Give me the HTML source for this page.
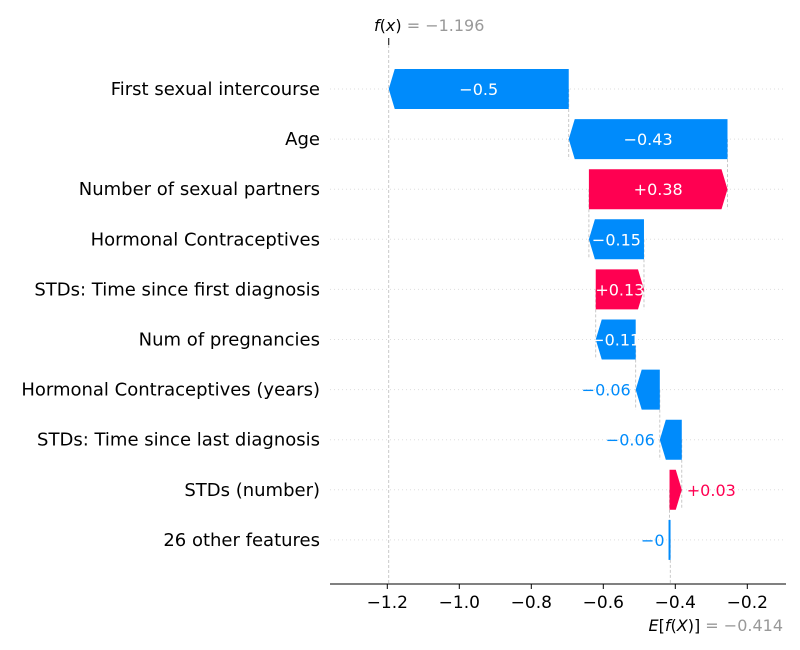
<!DOCTYPE html>
<html><head><meta charset="utf-8"><style>
html,body{margin:0;padding:0;background:#fff;}
svg{display:block;font-family:"DejaVu Sans","Liberation Sans",sans-serif;}
</style></head><body>
<svg id="chart" width="800" height="650" viewBox="0 0 800 650" xmlns="http://www.w3.org/2000/svg">
<g id="grid"></g><g id="conn"></g><g id="bars"></g><g id="labels"></g><g id="axis"></g>
</svg>
<script>
const features = ["First sexual intercourse","Age","Number of sexual partners","Hormonal Contraceptives","STDs: Time since first diagnosis","Num of pregnancies","Hormonal Contraceptives (years)","STDs: Time since last diagnosis","STDs (number)","26 other features"];
const shapValues = [-0.500,-0.441,0.385,-0.153,0.134,-0.111,-0.067,-0.061,0.034,-0.002];
const valueLabels = ["\u22120.5","\u22120.43","+0.38","\u22120.15","+0.13","\u22120.11","\u22120.06","\u22120.06","+0.03","\u22120"];
const baseValue = -0.414;
const fxValue = -1.196;
const xTicks = [-1.2,-1.0,-0.8,-0.6,-0.4,-0.2];
const xTickLabels = ["\u22121.2","\u22121.0","\u22120.8","\u22120.6","\u22120.4","\u22120.2"];

const NS="http://www.w3.org/2000/svg";
const X=v=>387.3+(v+1.2)*360;
const Y=i=>89+i*50.1;
const AXL=330,AXR=786,AXY=584,BH=40;
function mk(tag,attrs,parent,text){const e=document.createElementNS(NS,tag);for(const k in attrs)e.setAttribute(k,attrs[k]);if(text!==undefined)e.textContent=text;document.getElementById(parent).appendChild(e);return e;}

const n=features.length;const starts=new Array(n),ends=new Array(n);
let cur=baseValue;
for(let i=n-1;i>=0;i--){starts[i]=cur;cur+=shapValues[i];ends[i]=cur;}

for(let i=0;i<n;i++){
  const g=mk('line',{x1:AXL,x2:AXR,y1:Y(i),y2:Y(i),stroke:'#ddd','stroke-width':1,'stroke-dasharray':'1,3'},'grid');
  
  
  const t=mk('text',{x:320,y:Y(i)+6,'text-anchor':'end','font-size':'18px',fill:'#000'},'labels',features[i]);
  
  
}
const fl=mk('line',{x1:X(fxValue),x2:X(fxValue),y1:45,y2:AXY,stroke:'#bbb','stroke-width':0.8,'stroke-dasharray':'3,2'},'conn');


const el=mk('line',{x1:X(baseValue),x2:X(baseValue),y1:Y(n-1),y2:AXY,stroke:'#bbb','stroke-width':0.8,'stroke-dasharray':'3,2'},'conn');


const tk=mk('line',{x1:X(fxValue),x2:X(fxValue),y1:38,y2:45,stroke:'#000','stroke-width':1},'axis');


for(let i=0;i<n-1;i++){
  const c=mk('line',{x1:X(ends[i+1]),x2:X(ends[i+1]),y1:Y(i),y2:Y(i+1)+BH/2,stroke:'#bbb','stroke-width':0.8,'stroke-dasharray':'3,2'},'conn');
  
  
}
for(let i=0;i<n;i++){
  const s=X(starts[i]),e=X(ends[i]),y=Y(i),t=y-BH/2,b=y+BH/2;
  const w=Math.abs(e-s);const pos=shapValues[i]>0;
  const col=pos?'#ff0051':'#008bfb';
  let bar;
  if(w<2){
    bar=mk('rect',{x:Math.min(s,e)-1,y:t,width:2,height:BH,fill:col},'bars');
  } else {
    const h=Math.min(6,w)*(pos?1:-1);
    const pts=[[s,t],[e-h,t],[e,y],[e-h,b],[s,b]].map(p=>p.join(',')).join(' ');
    bar=mk('polygon',{points:pts,fill:col},'bars');
  }
  
  
  let lbl;
  if(w>34){
    lbl=mk('text',{x:(s+e)/2,y:y+6,'text-anchor':'middle','font-size':'16px',fill:'#fff'},'labels',valueLabels[i]);
  } else if(pos){
    lbl=mk('text',{x:Math.max(s,e)+5,y:y+6,'text-anchor':'start','font-size':'16px',fill:col},'labels',valueLabels[i]);
  } else {
    lbl=mk('text',{x:Math.min(s,e)-5,y:y+6,'text-anchor':'end','font-size':'16px',fill:col},'labels',valueLabels[i]);
  }
  
  
}
const ax=mk('line',{x1:AXL,x2:AXR,y1:AXY,y2:AXY,stroke:'#000','stroke-width':1},'axis');


xTicks.forEach((v,k)=>{
  const l=mk('line',{x1:X(v),x2:X(v),y1:AXY,y2:AXY+5,stroke:'#000','stroke-width':1},'axis');
  
  
  const t=mk('text',{x:X(v),y:AXY+24,'text-anchor':'middle','font-size':'17px',fill:'#000'},'axis',xTickLabels[k]);
  
  
});
</script>
<svg style="position:absolute;left:0;top:0" width="800" height="650">
<text x="374" y="31" font-size="16px" font-family="DejaVu Sans, sans-serif"><tspan font-style="italic">f</tspan>(<tspan font-style="italic">x</tspan>)<tspan fill="#999"> = −1.196</tspan></text>
<text x="783" y="631" text-anchor="end" font-size="16px" font-family="DejaVu Sans, sans-serif"><tspan font-style="italic">E</tspan>[<tspan font-style="italic">f</tspan>(<tspan font-style="italic">X</tspan>)]<tspan fill="#999"> = −0.414</tspan></text>
</svg>
</body></html>
